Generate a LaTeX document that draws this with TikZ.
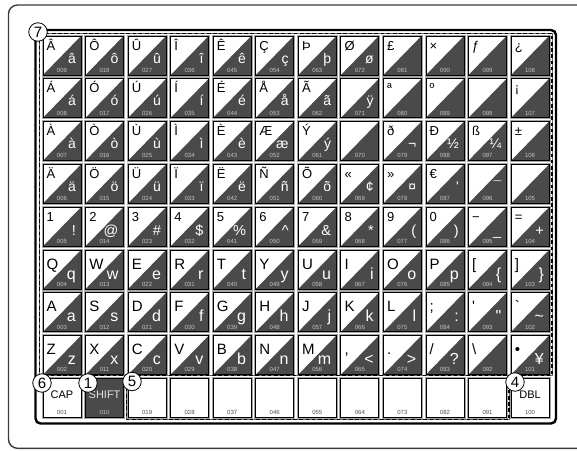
\documentclass[tikz,border=0pt]{standalone}
\usepackage{fontspec}
\setmainfont{Liberation Sans}[Ligatures=TeXOff]
\definecolor{keydark}{HTML}{4A4A4A}
\definecolor{codegray}{HTML}{C4C4C4}
\definecolor{framegray}{HTML}{3C3C3C}
\tikzset{
  keyouter/.style={draw=black!35, line width=0.8pt},
  keyedge/.style={draw=black, line width=0.9pt},
  upch/.style={inner sep=0pt, text=black},
  lowch/.style={inner sep=0pt, text=white},
  codelab/.style={inner sep=0pt, text=codegray, font=\fontsize{6}{7}\selectfont},
  dashline/.style={draw=black, line width=1.6pt, dash pattern=on 3.6pt off 2.6pt},
  thinline/.style={draw=black!60, line width=0.4pt},
  callout/.style={circle, draw=black, fill=white, line width=0.8pt, minimum size=18.5pt, inner sep=0pt, font=\fontsize{15}{15}\selectfont},
  bottomlab/.style={inner sep=0pt, font=\fontsize{11}{12}\selectfont}
}
\newcommand\mycode[1]{\ifnum#1<10 00#1\else\ifnum#1<100 0#1\else#1\fi\fi}
\newcommand\mykey[4]{%
  \pgfmathsetmacro\kx{43+42.55*(#1-1)}%
  \pgfmathsetmacro\ky{36+42.8*(#2-1)}%
  \pgfmathtruncatemacro\kc{9*(#1-1)+10-#2}%
  \draw[keyouter] (\kx-1,\ky-1) rectangle (\kx+39,\ky+40);
  \fill[white] (\kx,\ky) -- (\kx+38,\ky) -- (\kx,\ky+39) -- cycle;
  \fill[keydark] (\kx,\ky+39) -- (\kx+38,\ky+39) -- (\kx+38,\ky) -- cycle;
  \draw[keyedge] (\kx,\ky) rectangle (\kx+38,\ky+39);
  \ifnum#2>5
    \node[upch, anchor=base west, font=\fontsize{15}{16}\selectfont] (u-#1-#2) at (\kx+3.5,\ky+19) {#3};
  \else
    \node[upch, anchor=base west, font=\fontsize{13}{14}\selectfont] (u-#1-#2) at (\kx+3.5,\ky+14) {#3};
  \fi
  \ifnum#2>5
    \node[lowch, anchor=base east, font=\fontsize{16}{17}\selectfont] (l-#1-#2) at (\kx+33,\ky+29) {#4};
  \else\ifnum#2=5
    \node[lowch, anchor=base east, font=\fontsize{14.5}{15}\selectfont] (l-#1-#2) at (\kx+33,\ky+28) {#4};
  \else
    \node[lowch, anchor=base east, font=\fontsize{14}{15}\selectfont] (l-#1-#2) at (\kx+33,\ky+27) {#4};
  \fi\fi
  \node[codelab, anchor=base] (c-#1-#2) at (\kx+19,\ky+36.3) {\mycode{\kc}};
}
% #1 column, #2 label, #3 fill, #4 label colour, #5 code colour
\newcommand\mybkey[5]{%
  \pgfmathsetmacro\kx{43+42.55*(#1-1)}%
  \pgfmathsetmacro\ky{36+42.8*8}%
  \pgfmathtruncatemacro\kc{9*(#1-1)+1}%
  \draw[keyouter] (\kx-1,\ky-1) rectangle (\kx+39,\ky+40);
  \draw[keyedge, fill=#3] (\kx,\ky) rectangle (\kx+38,\ky+39);
  \node[codelab, anchor=base, text=#5] (c-#1-9) at (\kx+19,\ky+36) {\mycode{\kc}};
  \node[bottomlab, anchor=base, text=#4] (b-#1) at (\kx+19,\ky+20.5) {#2};
}
\begin{document}
\begin{tikzpicture}[x=1pt,y=-1pt]
\useasboundingbox (0,0) rectangle (577,450);
\clip (0,0) rectangle (577,450);
\fill[white] (0,0) rectangle (577,450);
% outer frame
\draw[framegray, line width=1.4pt, rounded corners=9pt] (8.5,5) rectangle (600,448.3);
% inner frame
\draw[black, line width=2.4pt, rounded corners=5pt] (35.5,30) rectangle (556,423.5);
% keys
\mykey{1}{1}{Â}{â}\mykey{1}{2}{Á}{á}\mykey{1}{3}{À}{à}\mykey{1}{4}{Ä}{ä}
\mykey{1}{5}{1}{!}\mykey{1}{6}{Q}{q}\mykey{1}{7}{A}{a}\mykey{1}{8}{Z}{z}
\mykey{2}{1}{Ô}{ô}\mykey{2}{2}{Ó}{ó}\mykey{2}{3}{Ò}{ò}\mykey{2}{4}{Ö}{ö}
\mykey{2}{5}{2}{@}\mykey{2}{6}{W}{w}\mykey{2}{7}{S}{s}\mykey{2}{8}{X}{x}
\mykey{3}{1}{Û}{û}\mykey{3}{2}{Ú}{ú}\mykey{3}{3}{Ù}{ù}\mykey{3}{4}{Ü}{ü}
\mykey{3}{5}{3}{\#}\mykey{3}{6}{E}{e}\mykey{3}{7}{D}{d}\mykey{3}{8}{C}{c}
\mykey{4}{1}{Î}{î}\mykey{4}{2}{Í}{í}\mykey{4}{3}{Ì}{ì}\mykey{4}{4}{Ï}{ï}
\mykey{4}{5}{4}{\$}\mykey{4}{6}{R}{r}\mykey{4}{7}{F}{f}\mykey{4}{8}{V}{v}
\mykey{5}{1}{Ê}{ê}\mykey{5}{2}{É}{é}\mykey{5}{3}{È}{è}\mykey{5}{4}{Ë}{ë}
\mykey{5}{5}{5}{\%}\mykey{5}{6}{T}{t}\mykey{5}{7}{G}{g}\mykey{5}{8}{B}{b}
\mykey{6}{1}{Ç}{ç}\mykey{6}{2}{Å}{å}\mykey{6}{3}{Æ}{æ}\mykey{6}{4}{Ñ}{ñ}
\mykey{6}{5}{6}{\textasciicircum}\mykey{6}{6}{Y}{y}\mykey{6}{7}{H}{h}\mykey{6}{8}{N}{n}
\mykey{7}{1}{Þ}{þ}\mykey{7}{2}{Ã}{ã}\mykey{7}{3}{Ý}{ý}\mykey{7}{4}{Õ}{õ}
\mykey{7}{5}{7}{\&}\mykey{7}{6}{U}{u}\mykey{7}{7}{J}{j}\mykey{7}{8}{M}{m}
\mykey{8}{1}{Ø}{ø}\mykey{8}{2}{}{ÿ}\mykey{8}{3}{}{}\mykey{8}{4}{«}{¢}
\mykey{8}{5}{8}{*}\mykey{8}{6}{I}{i}\mykey{8}{7}{K}{k}\mykey{8}{8}{,}{<}
\mykey{9}{1}{£}{}\mykey{9}{2}{ª}{}\mykey{9}{3}{ð}{¬}\mykey{9}{4}{»}{¤}
\mykey{9}{5}{9}{(}\mykey{9}{6}{O}{o}\mykey{9}{7}{L}{l}\mykey{9}{8}{.}{>}
\mykey{10}{1}{×}{}\mykey{10}{2}{º}{}\mykey{10}{3}{Ð}{½}\mykey{10}{4}{€}{'}
\mykey{10}{5}{0}{)}\mykey{10}{6}{P}{p}\mykey{10}{7}{;}{:}\mykey{10}{8}{/}{?}
\mykey{11}{1}{ƒ}{}\mykey{11}{2}{}{}\mykey{11}{3}{ß}{¼}\mykey{11}{4}{}{¯}
\mykey{11}{5}{−}{\_}\mykey{11}{6}{[}{\{}\mykey{11}{7}{'}{"}\mykey{11}{8}{\textbackslash}{}
\mykey{12}{1}{¿}{}\mykey{12}{2}{¡}{}\mykey{12}{3}{±}{}\mykey{12}{4}{}{}
\mykey{12}{5}{=}{+}\mykey{12}{6}{]}{\}}\mykey{12}{7}{`}{\textasciitilde}\mykey{12}{8}{•}{¥}
% bottom row
\mybkey{1}{CAP}{white}{black}{black!70}
\mybkey{2}{SHIFT}{keydark}{black!12}{codegray}
\mybkey{3}{}{white}{black}{black!70}
\mybkey{4}{}{white}{black}{black!70}
\mybkey{5}{}{white}{black}{black!70}
\mybkey{6}{}{white}{black}{black!70}
\mybkey{7}{}{white}{black}{black!70}
\mybkey{8}{}{white}{black}{black!70}
\mybkey{9}{}{white}{black}{black!70}
\mybkey{10}{}{white}{black}{black!70}
\mybkey{11}{}{white}{black}{black!70}
\mybkey{12}{DBL}{white}{black}{black!70}
% dashed outlines
\coordinate (d7a) at (39.5,33.5);
\coordinate (d7b) at (551.8,33.5);
\coordinate (d7c) at (551.8,375.3);
\coordinate (d7d) at (39.5,375.3);
\coordinate (d5a) at (126.3,375.3);
\coordinate (d5b) at (126.3,419.3);
\coordinate (d5c) at (509,419.3);
\coordinate (d5d) at (509,375.3);
\draw[thinline] (d7a) -- (d7b) -- (d7c) -- (d7d) -- cycle;
\draw[thinline] (d5a) -- (d5b) -- (d5c) -- (d5d);
\draw[dashline] (d7a) -- (d7b) -- (d7c) -- (d7d) -- cycle;
\draw[dashline] (d5a) -- (d5b) -- (d5c) -- (d5d);
% callouts
\node[callout] (n7) at (38,32) {7};
\node[callout] (n6) at (42,383) {6};
\node[callout] (n1) at (88,383) {1};
\node[callout] (n5) at (132,381.5) {5};
\node[callout] (n4) at (515,382) {4};
\end{tikzpicture}
\end{document}
